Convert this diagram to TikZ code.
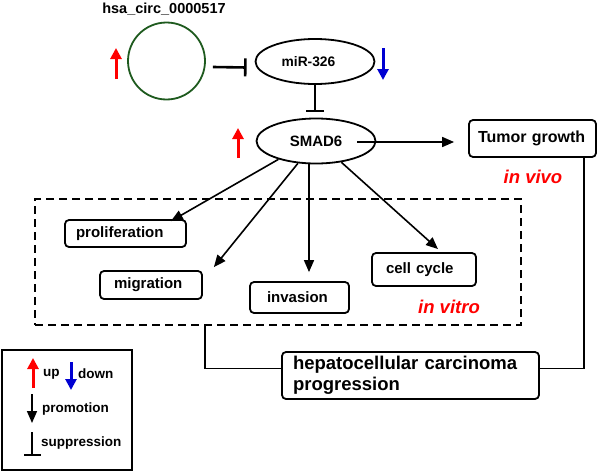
\documentclass[tikz,border=0pt]{standalone}
\usepackage{fontspec}
\setmainfont{Liberation Sans}
\usetikzlibrary{arrows.meta,shapes.geometric,calc}
\definecolor{circgreen}{RGB}{30,90,30}
\definecolor{upred}{RGB}{255,0,0}
\definecolor{downblue}{RGB}{0,0,210}
\begin{document}
\begin{tikzpicture}[x=1pt,y=-1pt,
  box/.style={draw, line width=1.8pt, rounded corners=4pt, align=left, inner ysep=0pt,
    font=\bfseries\fontsize{15}{18}\selectfont},
  ell/.style={draw, ellipse, line width=1.8pt, inner sep=0pt, minimum width=119pt, minimum height=45pt},
  arr/.style={line width=1.6pt, -{Triangle[length=12pt,width=10pt]}},
  inh/.style={line width=2.6pt, -{Bar[width=18pt]}},
  colarr/.style={line width=3pt, -{Triangle[length=11pt,width=11pt]}},
  lbl/.style={font=\bfseries\fontsize{13.5}{16}\selectfont, anchor=west, inner sep=0pt},
  ital/.style={text=upred, font=\bfseries\itshape\fontsize{18.5}{22}\selectfont, inner sep=0pt}
]
\useasboundingbox (0,0) rectangle (597,471);

% title and circRNA
\node[font=\bfseries\fontsize{14.5}{17}\selectfont, inner sep=0pt] (title) at (164,9) {hsa\_circ\_0000517};
\node[draw=circgreen, circle, line width=1.8pt, minimum size=77pt, inner sep=0pt] (circ) at (166.5,61) {};
\node[ell, font=\bfseries\fontsize{13.8}{16}\selectfont] (mir) at (315,61.5) {miR-326\hspace*{13pt}};
\node[ell, font=\bfseries\fontsize{15}{18}\selectfont] (smad) at (316,141) {SMAD6};

% inhibitions
\draw[inh] ([xshift=7pt,yshift=-6pt]circ.east) -- ([xshift=-8pt,yshift=-6pt]mir.west);
\draw[inh] (mir.south) -- ([yshift=5.5pt]mir.south |- smad.north);

% up/down markers
\draw[colarr, upred] (116,79) -- (116,48);
\draw[colarr, downblue] (383,48) -- (383,80);
\draw[colarr, upred] (238,158) -- (238,128);

% in vitro region
\node[draw, line width=2.8pt, dash pattern=on 8pt off 5pt, minimum width=486pt, minimum height=126pt, inner sep=0pt] (vitro) at (278,262) {};
\node[box, text width=99pt, inner xsep=11pt, minimum height=27pt] (prolif) at (125.5,233.5) {proliferation};
\node[box, text width=74pt, inner xsep=14pt, minimum height=28pt] (migr) at (151,285) {migration};
\node[box, text width=65pt, inner xsep=17pt, minimum height=31pt] (invas) at (299.5,297.5) {invasion};
\node[box, text width=76pt, inner xsep=14pt, minimum height=33pt] (cellc) at (424,269.5) {cell cycle};
\node[ital] (invitro) at (449,307) {in vitro};

\draw[arr] (smad.206) -- ([xshift=-16pt,yshift=-2pt]prolif.north east);
\draw[arr] (smad.231) -- ([xshift=11pt,yshift=3pt]migr.north east);
\draw[arr] ([xshift=-7pt]smad.south) -- ([xshift=9.5pt,yshift=9pt]invas.north);
\draw[arr] (smad.320) -- ([xshift=14pt,yshift=3pt]cellc.north);

% in vivo
\node[box, font=\bfseries\fontsize{16}{19}\selectfont, text width=109pt, inner xsep=9pt, minimum height=37pt] (tumor) at (532.5,138.5) {Tumor growth};
\node[ital] (invivo) at (533,177) {in vivo};
\draw[arr] ([xshift=41pt,yshift=-1pt]smad.center) -- ([xshift=-14pt,yshift=-3.5pt]tumor.west);

% HCC progression
\node[box, font=\bfseries\fontsize{18.5}{21}\selectfont, text width=235pt, inner xsep=11pt, minimum height=47pt] (hcc) at (410.5,375.5) {hepatocellular carcinoma\\progression};
\coordinate (vl) at (205,325);
\draw[line width=1.6pt] (vl) |- ([yshift=7pt]hcc.west);
\draw[line width=1.6pt] ([xshift=51.5pt]tumor.south) |- ([yshift=7pt]hcc.east);

% legend
\node[draw, line width=1.6pt, minimum width=130pt, minimum height=120pt, inner sep=0pt] (legend) at (67,410) {};
\draw[colarr, upred] (33,388) -- (33,358);
\node[lbl] (lup) at (43,374) {up};
\draw[colarr, downblue] (71,362) -- (71,390);
\node[lbl] (ldown) at (78,374) {down};
\draw[arr] (32,394) -- (32,423);
\node[lbl] (lprom) at (42,409) {promotion};
\draw[line width=1.6pt, -{Bar[width=17pt]}] (32,432) -- (32,456);
\node[lbl] (lsupp) at (41,443) {suppression};
\end{tikzpicture}
\end{document}
